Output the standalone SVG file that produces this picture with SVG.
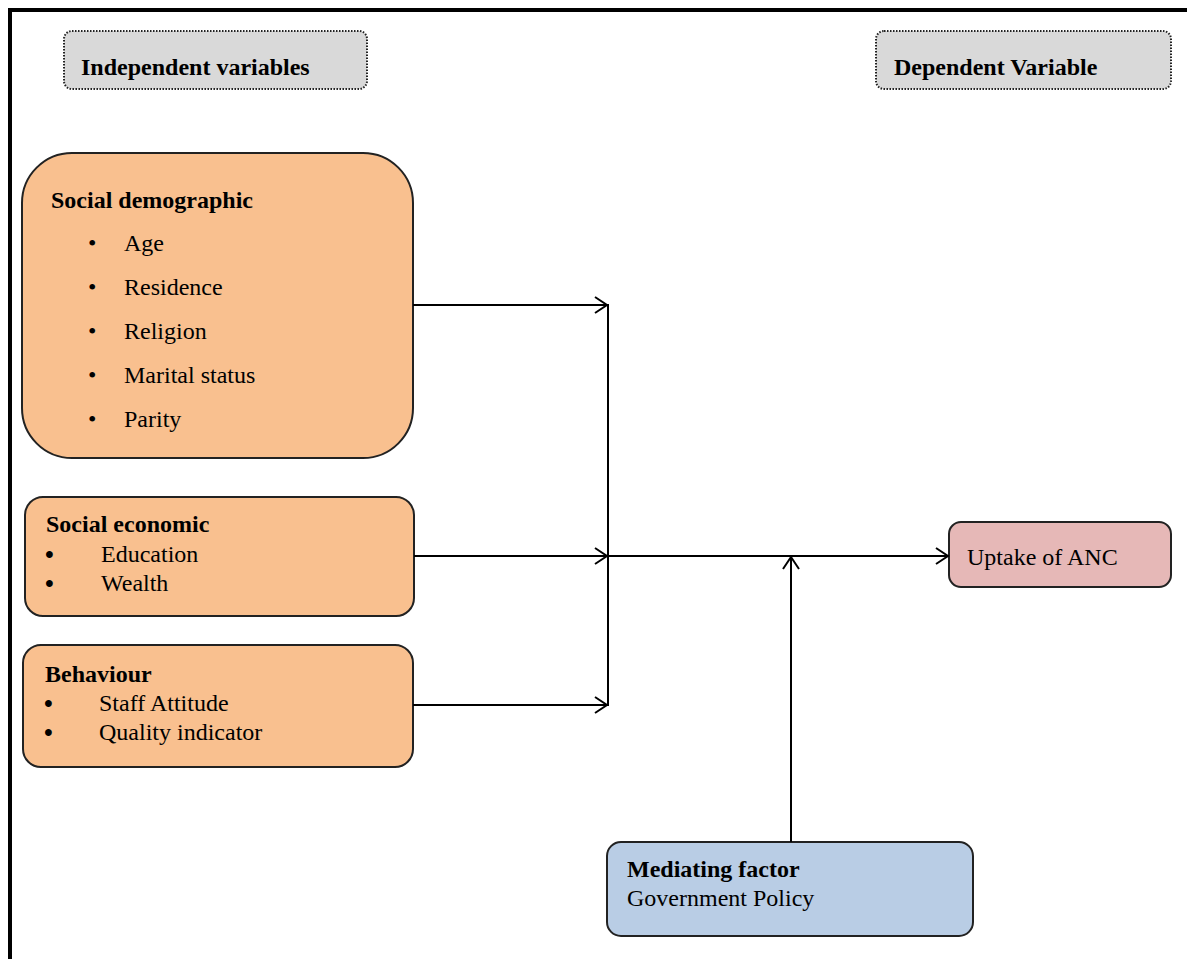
<svg xmlns="http://www.w3.org/2000/svg" width="1187" height="959" viewBox="0 0 1187 959">
<style>
text{font-family:"Liberation Serif","Times New Roman",serif;font-size:24px;fill:#000}
.b{font-weight:bold}
.bu{font-size:25px;font-weight:bold}
.hdr{fill:#d9d9d9;stroke:#222;stroke-width:2;stroke-dasharray:1.5 1.5}
.or{fill:#f9c08f;stroke:#222;stroke-width:2}
.pk{fill:#e6b8b7;stroke:#222;stroke-width:2}
.bl{fill:#b9cde5;stroke:#222;stroke-width:2}
.c{fill:none;stroke:#000;stroke-width:2}
</style>
<defs>
<marker id="ah" markerUnits="userSpaceOnUse" markerWidth="20" markerHeight="20" refX="14" refY="10" orient="auto">
<path d="M2,2 L14,10 L2,18" fill="none" stroke="#000" stroke-width="2"/>
</marker>
</defs>
<rect width="1187" height="959" fill="#fff"/>
<path d="M10,959 V10 H1187" fill="none" stroke="#000" stroke-width="4"/>
<g id="hdr-indep">
<rect class="hdr" x="64" y="31" width="303" height="58" rx="8"/>
<text class="b" x="81" y="75">Independent variables</text>
</g>
<g id="hdr-dep">
<rect class="hdr" x="876" y="31" width="295" height="58" rx="8"/>
<text class="b" x="894" y="75">Dependent Variable</text>
</g>
<g id="social-demographic">
<rect class="or" x="22" y="153" width="391" height="305" rx="50"/>
<text class="b" x="51" y="208">Social demographic</text>
<text x="88" y="251">•</text><text x="124" y="251">Age</text>
<text x="88" y="295">•</text><text x="124" y="295">Residence</text>
<text x="88" y="339">•</text><text x="124" y="339">Religion</text>
<text x="88" y="383">•</text><text x="124" y="383">Marital  status</text>
<text x="88" y="427">•</text><text x="124" y="427">Parity</text>
</g>
<g id="social-economic">
<rect class="or" x="25" y="497" width="389" height="119" rx="18"/>
<text class="b" x="46" y="532">Social economic</text>
<text class="bu" x="45" y="563">•</text><text x="101" y="562">Education</text>
<text class="bu" x="45" y="592">•</text><text x="101" y="591">Wealth</text>
</g>
<g id="behaviour">
<rect class="or" x="23" y="645" width="390" height="122" rx="18"/>
<text class="b" x="45" y="682">Behaviour</text>
<text class="bu" x="44" y="712">•</text><text x="99" y="711">Staff Attitude</text>
<text class="bu" x="44" y="741">•</text><text x="99" y="740">Quality  indicator</text>
</g>
<g id="uptake">
<rect class="pk" x="949" y="522" width="222" height="65" rx="12"/>
<text x="967" y="565">Uptake of ANC</text>
</g>
<g id="mediating">
<rect class="bl" x="607" y="842" width="366" height="94" rx="14"/>
<text class="b" x="627" y="877">Mediating factor</text>
<text x="627" y="906">Government Policy</text>
</g>
<g id="connectors">
<line class="c" x1="413" y1="305" x2="607" y2="305" marker-end="url(#ah)"/>
<line class="c" x1="414" y1="556" x2="607" y2="556" marker-end="url(#ah)"/>
<line class="c" x1="413" y1="705" x2="607" y2="705" marker-end="url(#ah)"/>
<line class="c" x1="608" y1="304" x2="608" y2="706"/>
<line class="c" x1="608" y1="556" x2="948" y2="556" marker-end="url(#ah)"/>
<line class="c" x1="791" y1="842" x2="791" y2="557" marker-end="url(#ah)"/>
</g>
</svg>
